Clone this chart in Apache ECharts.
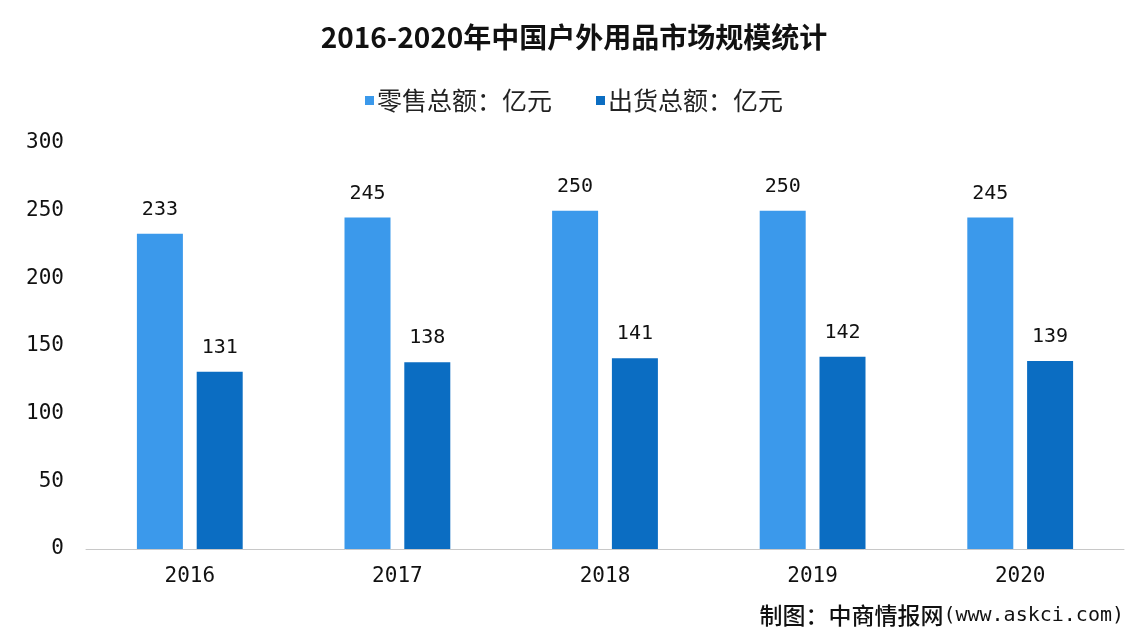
<!DOCTYPE html>
<html><head><meta charset="utf-8">
<script src="https://cdn.jsdelivr.net/npm/echarts@6/dist/echarts.min.js"></script>
<style>html,body{margin:0;padding:0;background:#fff;}#c{width:1148px;height:644px;}</style>
</head><body><div id="c"></div>
<script>
const categories = ['2016','2017','2018','2019','2020'];
const retail = [233, 245, 250, 250, 245];
const shipment = [131, 138, 141, 142, 139];
const seriesNames = ['零售总额：亿元', '出货总额：亿元'];
const titleText = '2016-2020年中国户外用品市场规模统计';
const sourceLabel = '制图：中商情报网';
const sourceUrl = '(www.askci.com)';

const font = '"Noto Sans CJK SC","DejaVu Sans",sans-serif';
const mono = '"DejaVu Sans Mono","Liberation Mono",monospace';
const chart = echarts.init(document.getElementById('c'));
chart.setOption({
  backgroundColor: '#fff',
  animation: false,
  title: {
    text: titleText, left: 'center', top: 18,
    textStyle: {fontFamily: font, fontSize: 28, fontWeight: 'bold', color: '#111'}
  },
  legend: {
    data: seriesNames, top: 83, left: 'center', itemWidth: 9, itemHeight: 9, itemGap: 44,
    icon: 'rect',
    textStyle: {fontFamily: font, fontSize: 25, color: '#222', padding: [0, 0, 0, -2]}
  },
  graphic: [{
    type: 'text', right: 24, top: 604,
    style: {
      text: '{a|' + sourceLabel + '}{b|' + sourceUrl + '}',
      rich: {
        a: {fontFamily: font, fontSize: 23, fill: '#111', fontWeight: 500},
        b: {fontFamily: mono, fontSize: 20, fill: '#111'}
      }
    }
  }],
  grid: {left: 86, right: 24, top: 143, bottom: 95},
  xAxis: {
    type: 'category', data: categories,
    axisLine: {lineStyle: {color: '#c8c8c8'}},
    axisTick: {show: false},
    axisLabel: {fontFamily: mono, fontSize: 21, color: '#111', margin: 17}
  },
  yAxis: {
    type: 'value', min: 0, max: 300, interval: 50,
    axisLine: {show: false}, axisTick: {show: false}, splitLine: {show: false},
    axisLabel: {fontFamily: mono, fontSize: 21, color: '#111', margin: 22}
  },
  series: [
    {name: seriesNames[0], type: 'bar', data: retail, barWidth: 46, barGap: '30%',
     itemStyle: {color: '#3b99eb'},
     label: {show: true, position: 'top', distance: 14, fontFamily: mono, fontSize: 20, color: '#111'}},
    {name: seriesNames[1], type: 'bar', data: shipment, barWidth: 46,
     itemStyle: {color: '#0b6dc2'},
     label: {show: true, position: 'top', distance: 14, fontFamily: mono, fontSize: 20, color: '#111'}}
  ]
});
</script></body></html>
